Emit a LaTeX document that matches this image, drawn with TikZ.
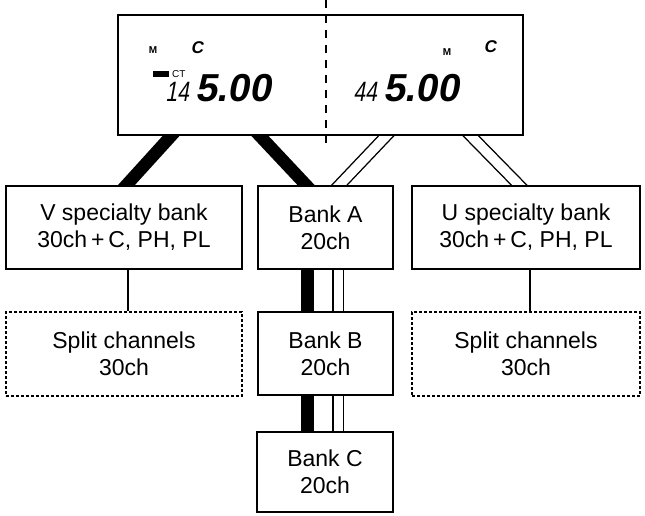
\documentclass[tikz,border=0pt]{standalone}
\usepackage{fontspec}
\setmainfont{Liberation Sans}
\newfontfamily\lcdfont[FakeSlant=0.18]{Liberation Sans}
\newfontfamily\lcdnarrow[FakeSlant=0.18,FakeStretch=0.75]{Liberation Sans}
\usetikzlibrary{backgrounds}
\tikzset{
  box/.style={draw=black, line width=1.5pt, fill=white, inner sep=0pt, align=center,
    font=\fontsize{23}{27}\selectfont},
  dbox/.style={box, dash pattern=on 3pt off 2pt, line width=1.2pt},
  disp/.style={draw=black, line width=2pt, fill=white, inner sep=0pt},
  thickconn/.style={line width=12.5pt, black, shorten <=-10pt, shorten >=-10pt},
  dblconn/.style={line width=1.4pt, double=white, double distance=9.5pt, shorten <=-10pt, shorten >=-10pt},
  thinconn/.style={line width=1.2pt},
  divider/.style={line width=1.3pt, dash pattern=on 8pt off 7pt},
  lcdsmall/.style={inner sep=0pt, font=\fontsize{10}{10}\selectfont\bfseries},
  lcdc/.style={inner sep=0pt, font=\fontsize{17}{17}\lcdfont\bfseries},
  lcdbig/.style={inner sep=0pt, font=\fontsize{39}{39}\lcdfont\bfseries},
  lcdlittle/.style={inner sep=0pt, font=\fontsize{28}{28}\lcdnarrow},
}
\begin{document}
\begin{tikzpicture}[x=1pt,y=-1pt]
\useasboundingbox (0,0) rectangle (645,515);
% display
\node[disp, minimum width=405pt, minimum height=120pt] (disp) at (320.5,75) {};
% boxes
\node[box, minimum width=236pt, minimum height=83pt] (vb) at (124,227.5) {V specialty bank\\30ch\,+\,C, PH, PL};
\node[box, minimum width=135pt, minimum height=83pt] (ba) at (325.5,227.5) {Bank A\\20ch};
\node[box, minimum width=228pt, minimum height=83pt] (ub) at (526,227.5) {U specialty bank\\30ch\,+\,C, PH, PL};
\node[dbox, minimum width=236pt, minimum height=84pt] (vs) at (124,354) {Split channels\\30ch};
\node[box, minimum width=135pt, minimum height=83pt] (bb) at (325.5,353.5) {Bank B\\20ch};
\node[dbox, minimum width=228pt, minimum height=84pt] (us) at (526,354) {Split channels\\30ch};
\node[box, minimum width=136pt, minimum height=80pt] (bc) at (325,472) {Bank C\\20ch};
% connectors
\begin{scope}[on background layer]
\draw[thickconn] ([xshift=54pt]disp.south west) -- ([xshift=121pt]vb.north west);
\draw[thickconn] ([xshift=143pt]disp.south west) -- ([xshift=49pt]ba.north west);
\draw[dblconn] ([xshift=269pt]disp.south west) -- ([xshift=82pt]ba.north west);
\draw[dblconn] ([xshift=354pt]disp.south west) -- ([xshift=108pt]ub.north west);
\draw[thickconn] ([xshift=50pt]ba.south west) -- ([xshift=50pt]bb.north west);
\draw[dblconn] ([xshift=81pt]ba.south west) -- ([xshift=81pt]bb.north west);
\draw[thickconn] ([xshift=50pt]bb.south west) -- ([xshift=51pt]bc.north west);
\draw[dblconn] ([xshift=81pt]bb.south west) -- ([xshift=82pt]bc.north west);
\end{scope}
\draw[thinconn] ([xshift=4pt]vb.south) -- ([xshift=4pt]vs.north);
\draw[thinconn] ([xshift=4pt]ub.south) -- ([xshift=4pt]us.north);
% LCD contents
\node[lcdsmall] (m1) at (153,50) {M};
\node[lcdc] (c1) at (197,48) {C};
\node[lcdsmall] (m2) at (447,52) {M};
\node[lcdc] (c2) at (490,47) {C};
\node[fill=black, minimum width=16pt, minimum height=6pt, inner sep=0pt] (lab) at (161,74) {};
\node[lcdsmall, font=\fontsize{10}{10}\selectfont, anchor=base west] (ct) at (172,77) {CT};
\node[lcdlittle, anchor=base east] (d1) at (189,101) {14};
\node[lcdbig, anchor=base west] (d2) at (195,101) {5.00};
\node[lcdlittle, anchor=base east] (d3) at (377,101) {44};
\node[lcdbig, anchor=base west] (d4) at (383,101) {5.00};
% divider
\coordinate (dtop) at (326,0);
\coordinate (dbot) at (326,145);
\draw[divider] (dtop) -- (dbot);
\end{tikzpicture}
\end{document}
